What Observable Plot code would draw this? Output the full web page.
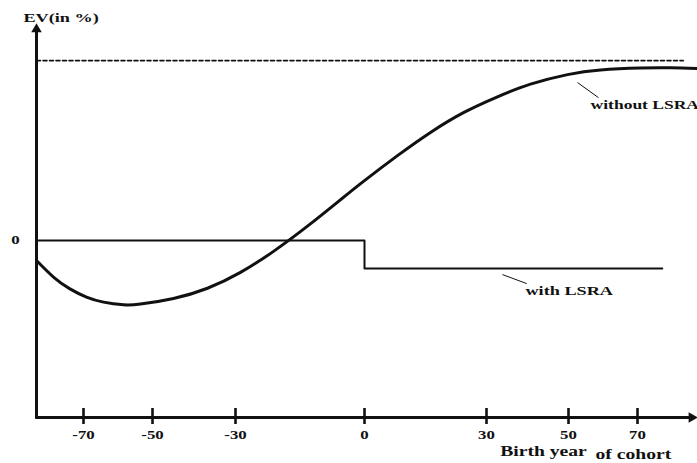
<!DOCTYPE html>
<html><head><meta charset="utf-8">
<script src="https://cdn.jsdelivr.net/npm/d3@7"></script>
<script src="https://cdn.jsdelivr.net/npm/@observablehq/plot@0.6"></script>
<style>body{margin:0;background:#fff;} svg{display:block}</style>
</head><body><div id="chart"></div>
<script>
// Tick labels on the birth-year axis
const tickYears = [-70, -50, -30, 0, 30, 50, 70];
const tickLabels = ["-70", "-50", "-30", "0", "30", "50", "70"];

// "without LSRA" curve (EV in arbitrary % units)
const withoutYears  = [-84, -78.94, -74.17, -69.13, -64.2, -58.41, -53.48, -44.94, -36.75, -28.84, -21.16, -13.26, -5.58, -0.23, 8.11, 16.23, 24.34, 32.68, 40.73, 49.76, 59.28, 70.87, 79.57, 87.4];
const withoutValues = [-1.11, -2.03, -2.67, -3.14, -3.42, -3.57, -3.53, -3.22, -2.65, -1.77, -0.60, 0.80, 2.27, 3.29, 4.72, 6.01, 7.11, 7.99, 8.69, 9.22, 9.48, 9.59, 9.60, 9.56];

// "with LSRA" step line
const withYears  = [-84, 0, 77.2];
const withValues = [0, -1.556, -1.556];

// dashed ceiling
const ceilingYears = [-84, 83.3];
const ceilingValue = 10;

// axis frame
const xStart = -84, xEnd = 87.4;
const yBottom = -9.83, yTop = 12.06;

const withoutData = withoutYears.map((x, i) => ({x, y: withoutValues[i]}));
const withData = withYears.map((x, i) => ({x, y: withValues[i]}));
const ceilingData = ceilingYears.map(x => ({x, y: ceilingValue}));
const tickData = tickYears.map((x, i) => ({x, label: tickLabels[i]}));

const annotations = [
  {x: -87.9, y: 12.17, text: "EV(in %)", anchor: "start", size: 13},
  {x: 56.4, y: 7.33, text: "without LSRA", anchor: "start", size: 12.5},
  {x: 39.5, y: -3.0, text: "with LSRA", anchor: "start", size: 13},
  {x: 43.9, y: -11.97, text: "Birth year", anchor: "middle", size: 14},
  {x: 68.8, y: -12.11, text: "of cohort", anchor: "middle", size: 14}
];
const leaders = [
  {x1: 52.6, y1: 8.78, x2: 58.7, y2: 7.94},
  {x1: 33.9, y1: -1.89, x2: 39.8, y2: -2.39}
];

const font = "'Liberation Serif', 'Times New Roman', serif";

const plot = Plot.plot({
  width: 697, height: 463, margin: 0,
  x: {type: "linear", domain: [-84, -70, -50, -30, 0, 30, 50, 70, 87.4], range: [36, 83, 152, 235, 364, 486, 568, 637, 697], axis: null},
  y: {domain: [yBottom, yTop], range: [417, 23], axis: null},
  style: {fontFamily: font, background: "#fff", color: "#000"},
  marks: [
    Plot.line(ceilingData, {x: "x", y: "y", stroke: "#111", strokeWidth: 1.6, strokeDasharray: "4,2.5"}),
    Plot.line(withData, {x: "x", y: "y", curve: "step-after", stroke: "#111", strokeWidth: 2}),
    Plot.line(withoutData, {x: "x", y: "y", curve: "natural", stroke: "#111", strokeWidth: 3}),
    Plot.link(leaders, {x1: "x1", y1: "y1", x2: "x2", y2: "y2", stroke: "#111", strokeWidth: 1}),
    // axes
    Plot.line([{x: xStart, y: yBottom}, {x: 85.7, y: yBottom}], {x: "x", y: "y", stroke: "#111", strokeWidth: 3}),
    Plot.line([{x: xStart, y: yBottom}, {x: xStart, y: 11.74}], {x: "x", y: "y", stroke: "#111", strokeWidth: 3}),
    Plot.dot([{x: xStart, y: 11.74}], {x: "x", y: "y", symbol: "triangle", r: 3.9, fill: "#111"}),
    Plot.dot([{x: 85.7, y: yBottom}], {x: "x", y: "y", symbol: "triangle", r: 3.9, fill: "#111", rotate: 90}),
    Plot.ruleX(tickData, {x: "x", y1: -9.33, y2: -10.22, stroke: "#111", strokeWidth: 2.6}),
    Plot.text(tickData, {x: "x", y: -11.0, text: "label", lineAnchor: "bottom", fontSize: 12, fontWeight: "bold", fill: "#111"}),
    Plot.text([{x: -90.3, y: 0, text: "0"}], {x: "x", y: "y", text: "text", fontSize: 12, fontWeight: "bold", fill: "#111"}),
    ...annotations.map(a => Plot.text([a], {x: "x", y: "y", text: "text", textAnchor: a.anchor, lineAnchor: "bottom", fontSize: a.size, fontWeight: "bold", fill: "#111"}))
  ]
});
document.getElementById("chart").append(plot);
plot.querySelectorAll("text").forEach(t => {
  const w = t.getComputedTextLength();
  if (w > 0) {
    t.setAttribute("textLength", (w * 1.4).toFixed(1));
    t.setAttribute("lengthAdjust", "spacingAndGlyphs");
  }
});
</script>
</body></html>
